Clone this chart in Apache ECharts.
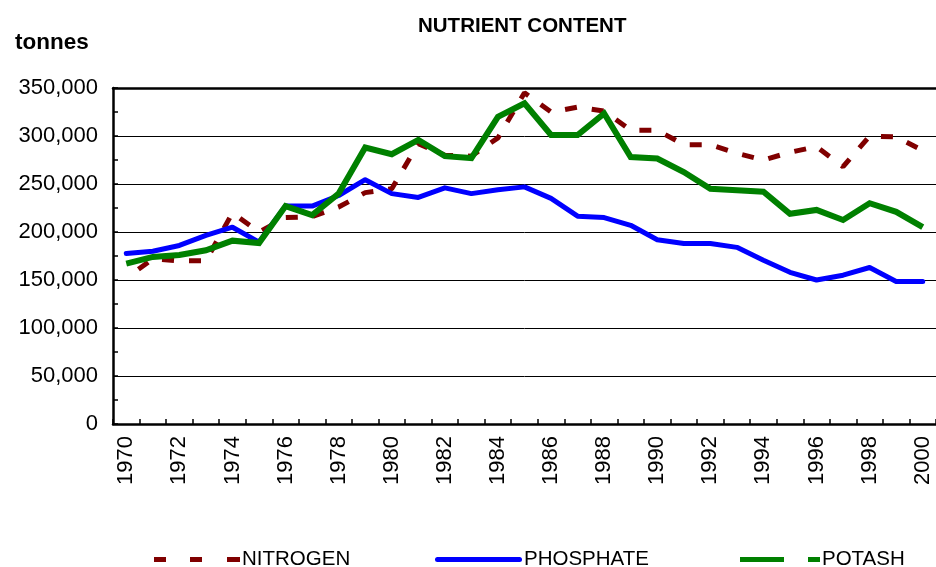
<!DOCTYPE html>
<html>
<head>
<meta charset="utf-8">
<title>Nutrient content</title>
<script src="https://cdn.jsdelivr.net/npm/echarts@6/dist/echarts.min.js"></script>
<style>
  html, body { margin: 0; padding: 0; background: #fff; }
  #chart { width: 936px; height: 567px; }
</style>
</head>
<body>
<div id="chart"></div>
<script>
// values (tonnes)
const years = ['1970','1971','1972','1973','1974','1975','1976','1977','1978','1979',
  '1980','1981','1982','1983','1984','1985','1986','1987','1988','1989',
  '1990','1991','1992','1993','1994','1995','1996','1997','1998','1999','2000'];

const nitrogen = [152000, 172000, 170000, 170000, 220000, 200000, 215000, 216000, 226000, 241000,
  245000, 292000, 280000, 279000, 298000, 345000, 325000, 330000, 326000, 306000,
  306000, 291000, 291000, 282000, 275000, 283000, 289000, 268000, 300000, 299000, 285000];

const phosphate = [177500, 180000, 186000, 196500, 205000, 189500, 227000, 227000, 238000, 254500,
  240000, 236000, 246000, 240000, 244000, 247000, 235000, 216500, 215000, 207000,
  192000, 188000, 188000, 184000, 170500, 158000, 150000, 155000, 163000, 148500, 148500];

const potash = [167000, 174000, 176000, 181000, 191000, 188500, 227000, 217500, 240000, 288000,
  281000, 296000, 279000, 277000, 320000, 334000, 301000, 301000, 323500, 278000,
  276500, 262500, 245000, 243500, 242000, 219000, 223000, 212500, 230000, 221000, 205000];

const yTicks = { min: 0, max: 350000, step: 50000 };

const font = 'Liberation Sans, Arial, sans-serif';

const chart = echarts.init(document.getElementById('chart'));

function legendFor(name, left, icon, width) {
  return {
    show: true,
    left: left,
    top: 544,
    data: [{ name: name, icon: icon }],
    itemWidth: width,
    itemHeight: 5,
    itemGap: 0,
    itemStyle: { borderWidth: 0 },
    textStyle: { fontFamily: font, fontSize: 20.5, color: '#000', padding: [0, 0, 0, -3] }
  };
}

chart.setOption({
  animation: false,
  backgroundColor: '#fff',
  title: [
    {
      text: 'NUTRIENT CONTENT',
      left: 413,
      top: 11,
      textStyle: { fontFamily: font, fontWeight: 'bold', fontSize: 20.5, color: '#000' }
    },
    {
      text: 'tonnes',
      left: 10,
      top: 26,
      textStyle: { fontFamily: font, fontWeight: 'bold', fontSize: 22.5, color: '#000' }
    }
  ],
  legend: [
    legendFor('NITROGEN', 149, 'path://M0,0h12v5h-12zM36,0h12v5h-12zM73,0h13v5h-13z', 86),
    legendFor('PHOSPHATE', 430, 'path://M2.5,0h82a2.5,2.5 0 0 1 0,5h-82a2.5,2.5 0 0 1 0,-5z', 87),
    legendFor('POTASH', 735, 'path://M0,0h44v5h-44zM68,0h12v5h-12z', 80)
  ],
  grid: { left: 113, right: 0, top: 88, bottom: 143 },
  xAxis: [
    {
      type: 'category',
      data: years,
      boundaryGap: true,
      axisLine: { lineStyle: { color: '#000', width: 2.5 } },
      axisTick: { show: true, inside: true, interval: 0, length: 5, lineStyle: { color: '#000', width: 1.5 } },
      axisLabel: {
        interval: 1,
        rotate: 90,
        margin: 12,
        color: '#000',
        fontFamily: font,
        fontSize: 22
      },
      splitLine: { show: false }
    },
    {
      // top frame line
      type: 'category',
      data: years,
      position: 'top',
      axisLine: { show: true, lineStyle: { color: '#000', width: 2.5 } },
      axisTick: { show: false },
      axisLabel: { show: false }
    }
  ],
  yAxis: {
    type: 'value',
    min: yTicks.min,
    max: yTicks.max,
    interval: yTicks.step,
    axisLine: { show: true, lineStyle: { color: '#000', width: 2.5 } },
    axisTick: { show: true, inside: true, length: 5, lineStyle: { color: '#000', width: 1.5 } },
    minorTick: { show: true, splitNumber: 2, length: 5, lineStyle: { color: '#000', width: 1.5 } },
    axisLabel: {
      margin: 15,
      color: '#000',
      fontFamily: font,
      fontSize: 22,
      formatter: v => v.toLocaleString('en-US')
    },
    splitLine: { show: true, lineStyle: { color: '#000', width: 1 } }
  },
  series: [
    {
      name: 'NITROGEN',
      type: 'line',
      data: nitrogen,
      symbol: 'none',
      color: '#800000',
      lineStyle: { color: '#800000', width: 5, type: [12, 15], dashOffset: 12, cap: 'butt' }
    },
    {
      name: 'PHOSPHATE',
      type: 'line',
      data: phosphate,
      symbol: 'none',
      color: '#0000ff',
      lineStyle: { color: '#0000ff', width: 5, cap: 'round', join: 'round' }
    },
    {
      name: 'POTASH',
      type: 'line',
      data: potash,
      symbol: 'none',
      color: '#008000',
      lineStyle: { color: '#008000', width: 6, join: 'miter' }
    }
  ]
});
</script>
</body>
</html>
